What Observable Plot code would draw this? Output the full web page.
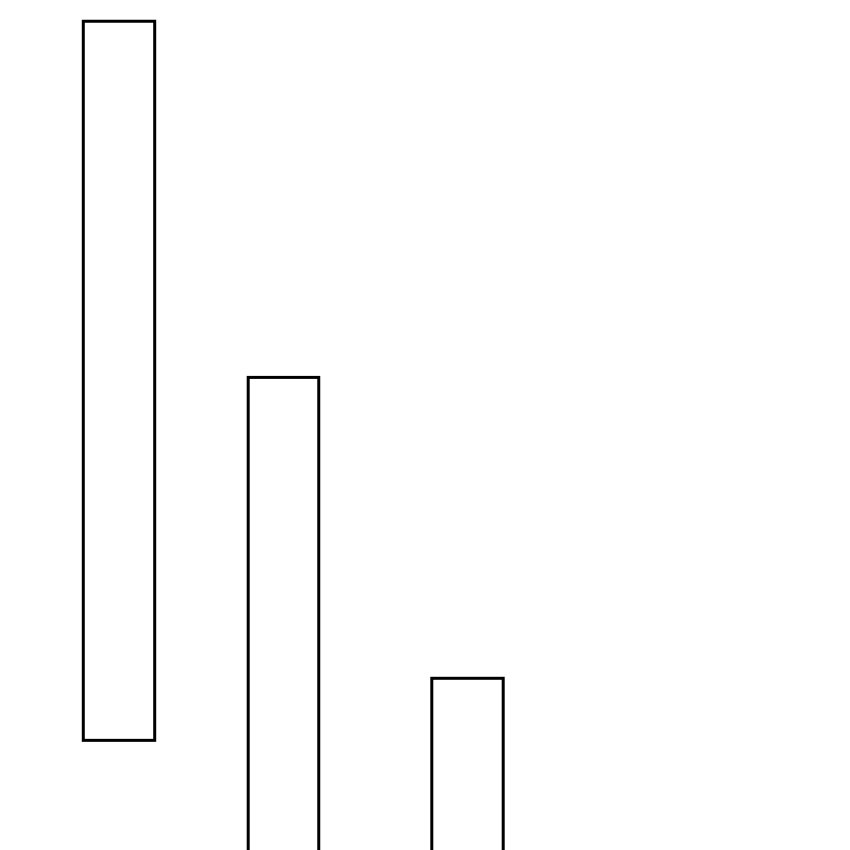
<!DOCTYPE html>
<html>
<head>
<meta charset="utf-8">
<script src="https://cdn.jsdelivr.net/npm/d3@7"></script>
<script src="https://cdn.jsdelivr.net/npm/@observablehq/plot@0.6"></script>
<style>
  html, body { margin: 0; padding: 0; background: #fff; }
  #chart svg { display: block; }
</style>
</head>
<body>
<div id="chart"></div>
<script>
const categories = ["A", "B", "C"];
const startX = [9.8, 29.2, 50.8];
const endX = [18.2, 37.5, 59.2];
const lowY = [12.9, -10, -10];
const highY = [97.5, 55.6, 20.2];

const data = categories.map((c, i) => ({
  category: c, x1: startX[i], x2: endX[i], y1: lowY[i], y2: highY[i]
}));

const chart = Plot.plot({
  width: 850,
  height: 850,
  margin: 0,
  x: { domain: [0, 100], axis: null },
  y: { domain: [0, 100], axis: null },
  marks: [
    Plot.rect(data, {
      x1: "x1", x2: "x2", y1: "y1", y2: "y2",
      fill: "white", stroke: "black", strokeWidth: 3,
      clip: true
    })
  ]
});
document.getElementById("chart").appendChild(chart);
</script>
</body>
</html>
